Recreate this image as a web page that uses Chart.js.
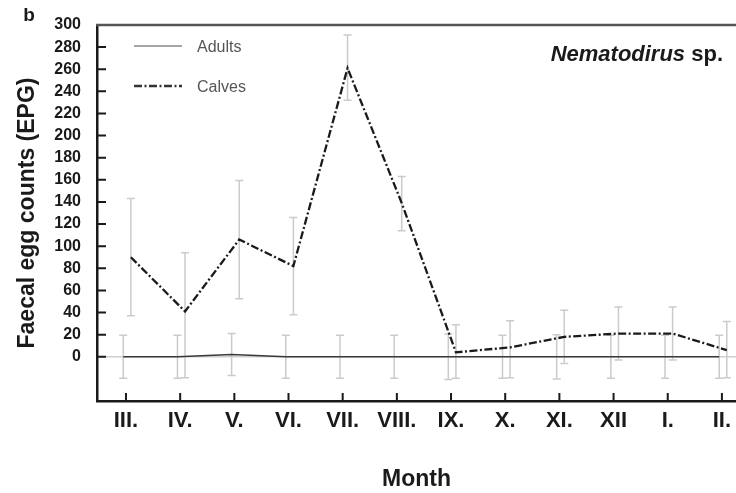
<!DOCTYPE html>
<html>
<head>
<meta charset="utf-8">
<script src="https://cdn.jsdelivr.net/npm/chart.js@4.4.0/dist/chart.umd.min.js"></script>
<style>
  html, body { margin: 0; padding: 0; background: #fff; }
</style>
</head>
<body>
<canvas id="chart" width="736" height="493"></canvas>
<script>
// data
const months = ['III.', 'IV.', 'V.', 'VI.', 'VII.', 'VIII.', 'IX.', 'X.', 'XI.', 'XII', 'I.', 'II.'];
const yTickValues = [0, 20, 40, 60, 80, 100, 120, 140, 160, 180, 200, 220, 240, 260, 280, 300];

const adultsMean = [0, 0, 2, 0, 0, 0, 0, 0, 0, 0, 0, 0];
const adultsErr = [19.5, 19.5, 19, 19.5, 19.5, 19.5, 20.5, 19.5, 20, 19.5, 19.5, 19.5];

const calvesMean = [90, 41, 106, 82, 261, 139, 4, 8.5, 18, 21, 21, 6];
const calvesErrUp = [53, 53, 53.5, 44, 30, 24, 25, 24, 24, 24, 24, 26];
const calvesErrDown = [53, 60, 53.5, 44, 29, 25, 23.5, 27.5, 24, 24, 24, 25];

const FONT = '"Liberation Sans", Arial, sans-serif';
const INK = '#1a1a1a';

// small side-by-side shift so the two error bars do not sit on top of each other
function toPoints(values, shift) {
  return values.map((v, i) => ({ x: i + shift, y: v }));
}

const errorBars = {
  id: 'errorBars',
  beforeDatasetsDraw(chart) {
    const { ctx, scales: { x, y } } = chart;
    ctx.save();
    ctx.strokeStyle = '#cbcbcb';
    ctx.lineWidth = 1.5;
    chart.data.datasets.forEach(ds => {
      ds.data.forEach((p, i) => {
        const px = x.getPixelForValue(p.x);
        const top = y.getPixelForValue(p.y + ds.errUp[i]);
        const bot = y.getPixelForValue(p.y - ds.errDown[i]);
        ctx.beginPath();
        ctx.moveTo(px, top); ctx.lineTo(px, bot);
        ctx.moveTo(px - 4, top); ctx.lineTo(px + 4, top);
        ctx.moveTo(px - 4, bot); ctx.lineTo(px + 4, bot);
        ctx.stroke();
      });
    });
    ctx.restore();
  }
};

const decor = {
  id: 'decor',
  afterDraw(chart) {
    const { ctx, chartArea: area, scales: { x, y } } = chart;
    ctx.save();

    // top frame line
    ctx.strokeStyle = '#555';
    ctx.lineWidth = 2.5;
    ctx.beginPath();
    ctx.moveTo(area.left - 1, area.top);
    ctx.lineTo(chart.width, area.top);
    ctx.stroke();

    // inward tick marks
    ctx.strokeStyle = INK;
    ctx.lineWidth = 2;
    ctx.beginPath();
    y.ticks.forEach(t => {
      if (t.value >= 300) return;
      const py = y.getPixelForValue(t.value);
      ctx.moveTo(area.left, py); ctx.lineTo(area.left + 9, py);
    });
    x.ticks.forEach(t => {
      const px = x.getPixelForValue(t.value);
      ctx.moveTo(px, area.bottom); ctx.lineTo(px, area.bottom - 8);
    });
    ctx.stroke();

    // legend
    const legendY = [46, 86];
    chart.data.datasets.forEach((ds, i) => {
      ctx.strokeStyle = ds.legendColor;
      ctx.lineWidth = ds.borderWidth;
      ctx.setLineDash(ds.borderDash || []);
      ctx.beginPath();
      ctx.moveTo(134, legendY[i]);
      ctx.lineTo(182, legendY[i]);
      ctx.stroke();
      ctx.setLineDash([]);
      ctx.fillStyle = '#555';
      ctx.font = '16px ' + FONT;
      ctx.textBaseline = 'middle';
      ctx.textAlign = 'left';
      ctx.fillText(ds.label, 197, legendY[i] + 2);
    });

    // title inside the plot
    ctx.fillStyle = INK;
    ctx.textBaseline = 'middle';
    ctx.textAlign = 'left';
    ctx.font = 'italic bold 22px ' + FONT;
    const w1 = ctx.measureText('Nematodirus').width;
    ctx.font = 'bold 22px ' + FONT;
    const w2 = ctx.measureText(' sp.').width;
    const startX = 723 - w1 - w2;
    ctx.font = 'italic bold 22px ' + FONT;
    ctx.fillText('Nematodirus', startX, 55);
    ctx.font = 'bold 22px ' + FONT;
    ctx.fillText(' sp.', startX + w1, 55);

    // panel letter
    ctx.font = 'bold 19px ' + FONT;
    ctx.textAlign = 'center';
    ctx.fillText('b', 29, 16);

    ctx.restore();
  }
};

new Chart(document.getElementById('chart'), {
  type: 'line',
  data: {
    datasets: [
      {
        label: 'Adults',
        data: toPoints(adultsMean, -0.05),
        errUp: adultsErr,
        errDown: adultsErr,
        borderColor: '#3a3a3a',
        legendColor: '#8a8a8a',
        borderWidth: 1.5,
        pointRadius: 0,
        tension: 0
      },
      {
        label: 'Calves',
        data: toPoints(calvesMean, 0.09),
        errUp: calvesErrUp,
        errDown: calvesErrDown,
        borderColor: '#1a1a1a',
        legendColor: '#333',
        borderWidth: 2.3,
        borderDash: [8, 2.5, 2, 2.5],
        pointRadius: 0,
        tension: 0
      }
    ]
  },
  options: {
    responsive: false,
    animation: false,
    devicePixelRatio: 1,
    layout: { padding: { top: 25, right: 0, bottom: 0, left: 0 } },
    plugins: {
      legend: { display: false },
      tooltip: { enabled: false }
    },
    scales: {
      x: {
        type: 'linear',
        min: -0.535,
        max: 11.26,
        afterBuildTicks: scale => { scale.ticks = months.map((m, i) => ({ value: i })); },
        afterFit: scale => { scale.height = 92; scale.paddingLeft = 0; scale.paddingRight = 0; },
        grid: { display: false, drawTicks: false },
        border: { display: true, color: INK, width: 2.5 },
        ticks: {
          callback: v => months[v],
          font: { family: FONT, size: 22, weight: 'bold' },
          color: INK,
          padding: 7,
          maxRotation: 0,
          autoSkip: false
        },
        title: {
          display: true,
          text: 'Month',
          font: { family: FONT, size: 23, weight: 'bold' },
          color: INK,
          padding: { top: 0, bottom: 0 }
        }
      },
      y: {
        min: -40,
        max: 300,
        afterBuildTicks: scale => { scale.ticks = yTickValues.map(v => ({ value: v })); },
        afterFit: scale => { scale.width = 97; scale.paddingTop = 0; scale.paddingBottom = 0; },
        grid: {
          drawTicks: false,
          color: c => (c.tick && c.tick.value === 0 ? '#cfcfcf' : 'rgba(0,0,0,0)'),
          lineWidth: 1.5
        },
        border: { display: true, color: INK, width: 2.5 },
        ticks: {
          font: { family: FONT, size: 16, weight: 'bold' },
          color: INK,
          padding: 16
        },
        title: {
          display: true,
          text: 'Faecal egg counts (EPG)',
          font: { family: FONT, size: 23, weight: 'bold' },
          color: INK,
          padding: { top: 14, bottom: 0 }
        }
      }
    }
  },
  plugins: [errorBars, decor]
});
</script>
</body>
</html>
